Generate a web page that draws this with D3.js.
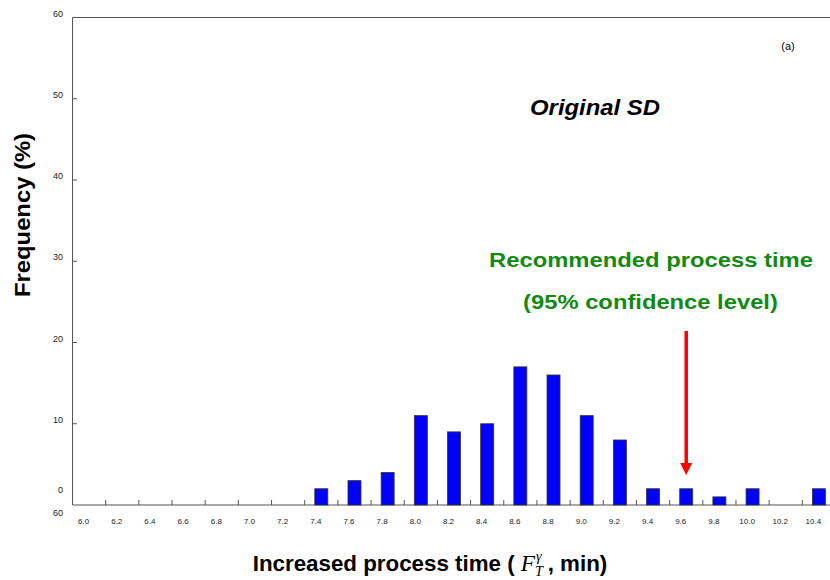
<!DOCTYPE html>
<html lang="en">
<head>
<meta charset="UTF-8">
<title>Original SD histogram</title>
<script src="https://d3js.org/d3.v7.min.js"></script>
<style>
    body { margin: 0; background: #fff; }
    svg { display: block; font-family: "Liberation Sans", Arial, sans-serif; }
    .tick-label { font-size: 9px; fill: #222; }
    .title { font-weight: bold; }
</style>
</head>
<body>
<svg width="830" height="580"></svg>
<script>
    // categories (increased process time, min) and frequency (%)
    const times = ["6.0", "6.2", "6.4", "6.6", "6.8", "7.0", "7.2", "7.4", "7.6", "7.8", "8.0", "8.2",
        "8.4", "8.6", "8.8", "9.0", "9.2", "9.4", "9.6", "9.8", "10.0", "10.2", "10.4"];
    const freq = [0, 0, 0, 0, 0, 0, 0, 2, 3, 4, 11, 9, 10, 17, 16, 11, 8, 2, 2, 1, 2, 0, 2];
    const yTicks = [0, 10, 20, 30, 40, 50, 60];
    const recommended = "9.6";

    const width = 830;
    const height = 580;
    const margin = { left: 72.5, right: -5.5, top: 17.5, bottom: 75 };

    const svg = d3.select("svg");

    const x = d3.scaleBand()
        .domain(times)
        .range([margin.left, width - margin.right]);

    const y = d3.scaleLinear()
        .domain([0, 60])
        .range([height - margin.bottom, margin.top]);

    const axisColor = "#555";

    // stretch a text horizontally so it spans the wanted width (the original font is wider)
    function fit(sel, target, cx) {
        const w = sel.node().getComputedTextLength();
        const k = target / w;
        sel.attr("transform", `translate(${cx},0) scale(${k},1) translate(${-cx},0)`);
    }

    // frame: top and bottom lines, left axis
    svg.append("line")
        .attr("x1", margin.left).attr("x2", width)
        .attr("y1", y(60)).attr("y2", y(60))
        .attr("stroke", axisColor);
    svg.append("line")
        .attr("x1", margin.left).attr("x2", width)
        .attr("y1", y(0)).attr("y2", y(0))
        .attr("stroke", axisColor);
    svg.append("line")
        .attr("x1", margin.left).attr("x2", margin.left)
        .attr("y1", y(0)).attr("y2", y(60))
        .attr("stroke", axisColor);

    // y ticks (inward) and labels
    svg.selectAll(".ytick")
        .data(yTicks.filter(d => d > 0 && d < 60))
        .enter().append("line")
        .attr("x1", margin.left).attr("x2", margin.left + 4.5)
        .attr("y1", d => y(d)).attr("y2", d => y(d))
        .attr("stroke", axisColor);

    svg.selectAll(".ylab")
        .data(yTicks)
        .enter().append("text")
        .attr("class", "tick-label")
        .attr("text-anchor", "end")
        .attr("x", 63)
        // the "0" label sits well above the baseline in the original
        .attr("y", d => d === 0 ? y(0) - 12 : y(d) - 1)
        .text(d => d);

    // stray "60" below the zero label
    svg.append("text")
        .attr("class", "tick-label")
        .attr("text-anchor", "end")
        .attr("x", 63)
        .attr("y", y(0) + 11)
        .text("60");

    // x ticks at band boundaries (inward)
    svg.selectAll(".xtick")
        .data(times.slice(1))
        .enter().append("line")
        .attr("x1", d => x(d)).attr("x2", d => x(d))
        .attr("y1", y(0)).attr("y2", y(0) - 5)
        .attr("stroke", axisColor);

    svg.selectAll(".xlab")
        .data(times)
        .enter().append("text")
        .attr("class", "tick-label")
        .attr("text-anchor", "middle")
        .attr("x", d => x(d) + x.bandwidth() / 2 - 5.5)
        .attr("y", y(0) + 19)
        .style("font-size", "8px")
        .text(d => d);

    // bars
    const barW = 13;
    svg.selectAll(".bar")
        .data(times.map((t, i) => ({ t, v: freq[i] })).filter(d => d.v > 0))
        .enter().append("rect")
        .attr("x", d => x(d.t) + x.bandwidth() / 2 - barW / 2)
        .attr("y", d => y(d.v))
        .attr("width", barW)
        .attr("height", d => y(0) - y(d.v))
        .attr("fill", "#0000ff")
        .attr("stroke", "#333")
        .attr("stroke-width", 0.8);

    // annotations
    svg.append("text")
        .attr("x", 788).attr("y", 50)
        .attr("text-anchor", "middle")
        .attr("font-size", "11px")
        .text("(a)");

    const sd = svg.append("text")
        .attr("class", "title")
        .attr("x", 595).attr("y", 115)
        .attr("text-anchor", "middle")
        .attr("font-size", "22px")
        .attr("font-style", "italic")
        .text("Original SD");
    fit(sd, 130, 595);

    const green = "#128a12";
    const rec1 = svg.append("text")
        .attr("class", "title")
        .attr("x", 651).attr("y", 267)
        .attr("text-anchor", "middle")
        .attr("font-size", "21px")
        .attr("fill", green)
        .text("Recommended process time");
    fit(rec1, 324, 651);
    const rec2 = svg.append("text")
        .attr("class", "title")
        .attr("x", 650.5).attr("y", 309)
        .attr("text-anchor", "middle")
        .attr("font-size", "21px")
        .attr("fill", green)
        .text("(95% confidence level)");
    fit(rec2, 255, 650.5);

    // red arrow pointing at the recommended time
    const ax = x(recommended) + x.bandwidth() / 2;
    svg.append("line")
        .attr("x1", ax).attr("x2", ax)
        .attr("y1", 331).attr("y2", 464)
        .attr("stroke", "#ff0000")
        .attr("stroke-width", 3.5);
    svg.append("path")
        .attr("d", `M${ax - 6},463 L${ax + 6},463 L${ax},475 Z`)
        .attr("fill", "#ff0000");

    // axis titles
    const yt = svg.append("text")
        .attr("class", "title")
        .attr("text-anchor", "middle")
        .attr("font-size", "22px")
        .text("Frequency (%)");
    const kY = 164 / yt.node().getComputedTextLength();
    yt.attr("transform", `translate(30,215) rotate(-90) scale(${kY},1)`);

    const mathFont = "'Liberation Serif', 'DejaVu Serif', serif";
    const xt = svg.append("text")
        .attr("class", "title")
        .attr("x", 430).attr("y", 571)
        .attr("text-anchor", "middle")
        .attr("font-size", "22px");
    xt.append("tspan").text("Increased process time ( ");
    xt.append("tspan")
        .attr("font-family", mathFont)
        .attr("font-style", "italic")
        .attr("font-weight", "normal")
        .attr("font-size", "23px")
        .text("F");
    xt.append("tspan")
        .attr("font-family", mathFont)
        .attr("font-style", "italic")
        .attr("font-weight", "normal")
        .attr("font-size", "14px")
        .attr("dy", 5)
        .text("T");
    xt.append("tspan")
        .attr("font-family", mathFont)
        .attr("font-style", "italic")
        .attr("font-weight", "normal")
        .attr("font-size", "14px")
        .attr("dx", -7)
        .attr("dy", -15)
        .text("γ");
    xt.append("tspan")
        .attr("dy", 10)
        .text(" , min)");
    fit(xt, 362, 430);
</script>
</body>
</html>
